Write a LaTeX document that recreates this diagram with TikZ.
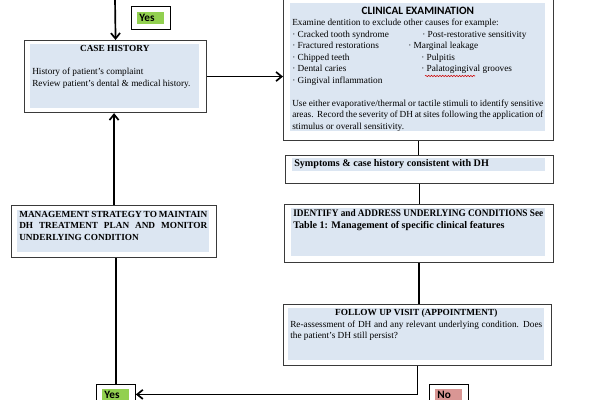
\documentclass[tikz,border=0pt]{standalone}
\usepackage{fontspec}
\usepackage{graphicx}
\setmainfont{Liberation Serif}
\newfontfamily\labelfont{Carlito}
\usetikzlibrary{arrows.meta,decorations.pathmorphing}

\definecolor{boxblue}{HTML}{DCE6F2}
\definecolor{framegray}{HTML}{3A3A3A}
\definecolor{yesgreen}{HTML}{92D050}
\definecolor{nored}{HTML}{D99694}

\newlength{\px}\setlength{\px}{0.025cm}
\setlength{\fboxsep}{2\px}
\newcommand{\bodysize}{\fontsize{6.6pt}{8.2pt}\selectfont}
\newcommand{\headsize}{\fontsize{7.2pt}{8.5pt}\selectfont}
\newcommand{\shadetext}[3]{\parbox[c][#2\px][t]{#1\px}{\bodysize #3}}
\newcommand{\tagtext}[2]{\colorbox{#1}{\makebox[23\px][l]{\labelfont\bfseries\fontsize{8pt}{9pt}\selectfont #2}}}
\newcommand{\fullline}[1]{\resizebox{\linewidth}{\height}{#1}}

\begin{document}
\begin{tikzpicture}[x=0.025cm, y=-0.025cm]
    \tikzset{
        frame/.style={draw=framegray, line width=0.8pt, anchor=north west, inner sep=0pt},
        shade/.style={fill=boxblue, anchor=north west, inner xsep=2\px, inner ysep=1\px},
        tag/.style={draw=black, line width=0.6pt, anchor=north west, inner sep=0pt,
                    minimum width=39\px, minimum height=23\px},
        link/.style={line width=1.2pt},
        arrow/.style={link, -{Straight Barb[length=4pt,width=6.5pt]}},
        squiggle/.style={draw=red!80!black, line width=0.4pt, decorate,
                         decoration={snake, amplitude=0.45pt, segment length=2pt}}
    }
    \useasboundingbox (0,0) rectangle (600,400);

    % case history
    \node[frame, minimum width=182\px, minimum height=72\px] (history) at (24,40) {};
    \node[shade] (historytext) at (30,44) {\shadetext{165}{62}{%
        {\centering\bfseries CASE HISTORY\par}
        \vspace{8.2pt}
        \raggedright
        History of patient’s complaint\\
        Review patient’s dental \& medical history.}};

    % clinical examination
    \node[frame, minimum width=270\px, minimum height=146\px] (clinical) at (283,-6) {};
    \node[shade] (clinicaltext) at (290,3) {\shadetext{251}{126}{%
        \vspace*{2.5\px}
        {\centering\labelfont\bfseries\fontsize{8pt}{8.6pt}\selectfont CLINICAL EXAMINATION\par}
        {\raggedright
        Examine dentition to exclude other causes for example:\\
        \makebox[130\px][l]{· Cracked tooth syndrome}· Post-restorative sensitivity\\
        \makebox[116\px][l]{· Fractured restorations}· Marginal leakage\\
        \makebox[129\px][l]{· Chipped teeth}· Pulpitis\\
        \makebox[129\px][l]{· Dental caries}· Palatogingival grooves\\
        · Gingival inflammation\par}
        \vspace{8.2pt}
        Use either evaporative/thermal or tactile stimuli to identify sensitive\linebreak
        areas.\ \ Record the severity of DH at sites following the application of\linebreak
        stimulus or overall sensitivity.}};
    \draw[squiggle] (425,76) -- (475,76);

    % symptoms
    \node[frame, minimum width=268\px, minimum height=28\px] (symptoms) at (285,155) {};
    \node[shade] (symptomstext) at (292,158) {\shadetext{249}{11}{%
        \headsize\bfseries Symptoms \& case history consistent with DH}};

    % underlying conditions
    \node[frame, minimum width=269\px, minimum height=58\px] (identify) at (284,204) {};
    \node[shade] (identifytext) at (291,208) {\shadetext{250}{46}{%
        \headsize\bfseries \fullline{IDENTIFY and ADDRESS UNDERLYING CONDITIONS See}\par
        Table 1: Management of specific clinical features}};

    % follow up
    \node[frame, minimum width=268\px, minimum height=61\px] (follow) at (283,304) {};
    \node[shade] (followtext) at (288,308) {\shadetext{252}{50}{%
        {\centering\bfseries FOLLOW UP VISIT (APPOINTMENT)\par}
        Re-assessment of DH and any relevant underlying condition. Does\linebreak
        the patient’s DH still persist?}};

    % management strategy
    \node[frame, minimum width=205\px, minimum height=52\px] (strategy) at (11,205) {};
    \node[shade] (strategytext) at (17,210) {\shadetext{188}{40}{%
        \bfseries MANAGEMENT STRATEGY TO MAINTAIN\linebreak
        DH TREATMENT PLAN AND MONITOR\linebreak
        UNDERLYING CONDITION}};

    % answers
    \node[tag] (yestop) at (131,6) {\tagtext{yesgreen}{Yes}};
    \node[tag, minimum height=20\px] (yesbottom) at (96,384) {\tagtext{yesgreen}{Yes}};
    \node[tag, minimum height=20\px] (nobottom) at (429,384) {\tagtext{nored}{No}};

    % connectors
    \coordinate (entry) at (115,-2);
    \draw[arrow] (entry) -- (history.north);
    \draw[arrow] (history.east) -- (history.east -| clinical.west);
    \draw[link]  (clinical.south) -- (clinical.south |- symptoms.north);
    \draw[link]  (symptoms.south) -- (symptoms.south |- identify.north);
    \draw[link]  (identify.south) -- (identify.south |- follow.north);
    \draw[arrow] (follow.south) |- (yesbottom.east);
    \draw[link]  (yesbottom.north) -- (yesbottom.north |- strategy.south);
    \draw[arrow] (strategy.north) -- (strategy.north |- history.south);

\end{tikzpicture}
\end{document}
